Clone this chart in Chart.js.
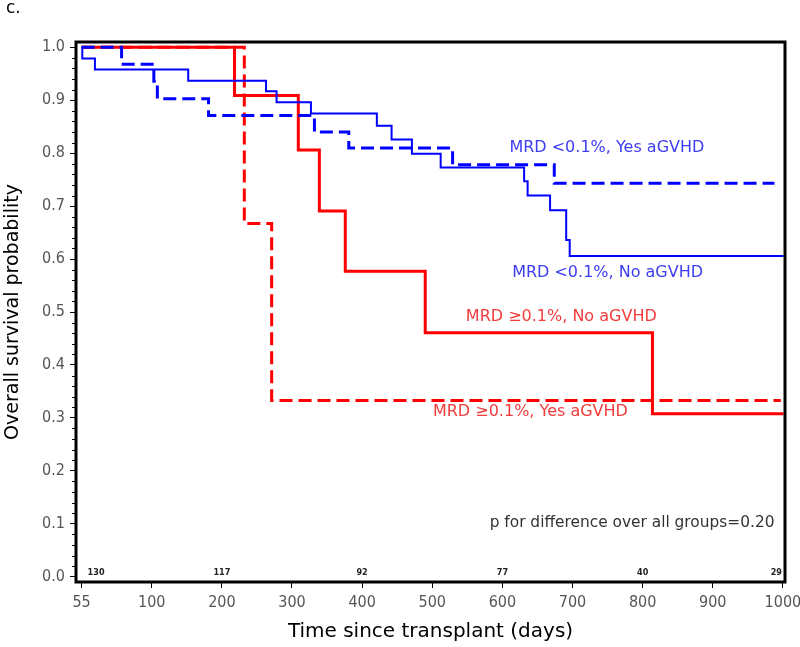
<!DOCTYPE html>
<html>
<head>
<meta charset="utf-8">
<script src="https://cdn.jsdelivr.net/npm/chart.js@4.4.1/dist/chart.umd.min.js"></script>
<style>
  html, body { margin: 0; padding: 0; background: #fff; }
  #wrap { width: 800px; height: 647px; }
</style>
</head>
<body>
<div id="wrap"><canvas id="km"></canvas></div>
<script>
// Kaplan-Meier steps (day on axis, survival after the drop)
const lowNoDays  = [0, 1, 19, 152, 263, 278, 327, 421, 442, 471, 512, 631, 636, 668, 691, 696, 1001]
const lowNoSurv  = [1, 0.979, 0.958, 0.937, 0.917, 0.896, 0.875, 0.852, 0.826, 0.799, 0.773, 0.747, 0.720, 0.692, 0.636, 0.606, 0.606]
const lowYesDays = [0, 57, 103, 108, 181, 332, 381, 529, 674, 988]
const lowYesSurv = [1, 0.968, 0.936, 0.903, 0.871, 0.840, 0.810, 0.778, 0.743, 0.743]
const highNoDays = [0, 218, 309, 339, 376, 490, 814, 1001]
const highNoSurv = [1, 0.909, 0.806, 0.691, 0.577, 0.461, 0.308, 0.308]
const highYesDays = [0, 232, 271, 997]
const highYesSurv = [1, 0.667, 0.333, 0.333]

const xTicks = [0, 100, 200, 300, 400, 500, 600, 700, 800, 900, 1000]
const xTickLabels = ['55', '100', '200', '300', '400', '500', '600', '700', '800', '900', '1000']
const yTicks = [0, 0.1, 0.2, 0.3, 0.4, 0.5, 0.6, 0.7, 0.8, 0.9, 1.0]

const atRiskDays = [0, 200, 400, 600, 800, 1000]
const atRiskCounts = [130, 117, 92, 77, 40, 29]

const condensed = "'DejaVu Sans Condensed', 'DejaVu Sans', sans-serif"

// text placed inside the plot, in data coordinates
const curveLabels = [
  { text: 'MRD <0.1%, Yes aGVHD', day: 749, surv: 0.811, color: '#3d3df2', align: 'center', size: 16 },
  { text: 'MRD <0.1%, No aGVHD', day: 750, surv: 0.574, color: '#3d3df2', align: 'center', size: 16 },
  { text: 'MRD \u22650.1%, No aGVHD', day: 684, surv: 0.491, color: '#f23c3c', align: 'center', size: 16 },
  { text: 'MRD \u22650.1%, Yes aGVHD', day: 640, surv: 0.312, color: '#f23c3c', align: 'center', size: 16 },
  { text: 'p for difference over all groups=0.20', day: 988, surv: 0.102, color: '#333', align: 'right', size: 15.4 }
]

function steps(days, surv) {
  return days.map((d, i) => ({ x: d, y: surv[i] }))
}

const extras = {
  id: 'extras',
  afterDraw(chart) {
    const ctx = chart.ctx
    const { left, right, top, bottom } = chart.chartArea
    const xs = chart.scales.x, ys = chart.scales.y
    ctx.save()

    // minor ticks on the y axis
    ctx.strokeStyle = '#000'
    ctx.lineWidth = 1
    for (let k = 0; k <= 50; k++) {
      if (k % 5 === 0) continue
      const py = Math.round(ys.getPixelForValue(k / 50)) + 0.5
      ctx.beginPath()
      ctx.moveTo(left - 4, py)
      ctx.lineTo(left, py)
      ctx.stroke()
    }

    // box round the plot
    ctx.lineWidth = 3
    ctx.strokeRect(left, top, right - left, bottom - top)

    // curve labels and p value
    ctx.textBaseline = 'middle'
    curveLabels.forEach((l) => {
      ctx.fillStyle = l.color
      ctx.font = l.size + 'px DejaVu Sans'
      ctx.textAlign = l.align
      ctx.fillText(l.text, xs.getPixelForValue(l.day), ys.getPixelForValue(l.surv))
    })

    // numbers at risk
    ctx.fillStyle = '#222'
    ctx.font = 'bold 9px ' + condensed
    const ry = ys.getPixelForValue(0.008)
    atRiskDays.forEach((d, i) => {
      let px = xs.getPixelForValue(d)
      if (i === 0) { ctx.textAlign = 'left'; px += 6 }
      else if (i === atRiskDays.length - 1) { ctx.textAlign = 'right'; px -= 1 }
      else ctx.textAlign = 'center'
      ctx.fillText(String(atRiskCounts[i]), px, ry)
    })

    // panel letter
    ctx.fillStyle = '#000'
    ctx.font = '17px DejaVu Sans'
    ctx.textAlign = 'left'
    ctx.textBaseline = 'alphabetic'
    ctx.fillText('c.', 6, 13)
    ctx.restore()
  }
}

new Chart(document.getElementById('km'), {
  type: 'line',
  data: {
    datasets: [
      { data: steps(lowYesDays, lowYesSurv), borderColor: '#0000ff', borderWidth: 3, borderDash: [13, 6] },
      { data: steps(lowNoDays, lowNoSurv), borderColor: '#0000ff', borderWidth: 2 },
      { data: steps(highYesDays, highYesSurv), borderColor: '#ff0000', borderWidth: 3, borderDash: [13, 6] },
      { data: steps(highNoDays, highNoSurv), borderColor: '#ff0000', borderWidth: 3 }
    ]
  },
  options: {
    responsive: true,
    maintainAspectRatio: false,
    animation: false,
    datasets: {
      line: { stepped: true, pointRadius: 0, fill: false, borderCapStyle: 'butt' }
    },
    layout: { padding: { top: 42, right: 15, left: 0, bottom: 0 } },
    plugins: { legend: { display: false }, tooltip: { enabled: false } },
    scales: {
      x: {
        type: 'linear',
        min: -8,
        max: 1003,
        afterBuildTicks: (s) => { s.ticks = xTicks.map((v) => ({ value: v })) },
        afterFit: (s) => { s.height = 65; s.paddingLeft = 0; s.paddingRight = 0 },
        ticks: {
          autoSkip: false,
          maxRotation: 0,
          padding: 5,
          color: '#555',
          font: { family: condensed, size: 16 },
          callback: (v) => xTickLabels[xTicks.indexOf(v)]
        },
        grid: { drawOnChartArea: false, tickLength: 6, tickColor: '#000' },
        border: { display: false },
        title: {
          display: true,
          text: 'Time since transplant (days)',
          color: '#000',
          font: { family: 'DejaVu Sans', size: 20 },
          padding: { top: 0, bottom: 3 }
        }
      },
      y: {
        min: -0.01,
        max: 1.01,
        afterBuildTicks: (s) => { s.ticks = yTicks.map((v) => ({ value: v })) },
        afterFit: (s) => { s.width = 76; s.paddingTop = 0; s.paddingBottom = 0 },
        ticks: {
          padding: 5,
          color: '#555',
          font: { family: condensed, size: 16 },
          callback: (v) => v.toFixed(1)
        },
        grid: { drawOnChartArea: false, tickLength: 6, tickColor: '#000' },
        border: { display: false },
        title: {
          display: true,
          text: 'Overall survival probability',
          color: '#000',
          font: { family: 'DejaVu Sans', size: 19 },
          padding: { top: 2, bottom: 0 }
        }
      }
    }
  },
  plugins: [extras]
})
</script>
</body>
</html>
